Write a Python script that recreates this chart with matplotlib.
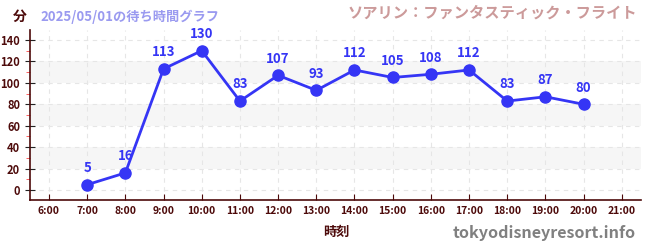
import matplotlib
matplotlib.use("Agg")
import matplotlib.pyplot as plt
from matplotlib.ticker import MultipleLocator, FuncFormatter

plt.rcParams['font.family'] = ['Noto Sans CJK JP', 'DejaVu Sans']

hours = [7, 8, 9, 10, 11, 12, 13, 14, 15, 16, 17, 18, 19, 20]
waits = [5, 16, 113, 130, 83, 107, 93, 112, 105, 108, 112, 83, 87, 80]
tick_hours = list(range(6, 22))
tick_labels = [f"{h}:00" for h in tick_hours]
y_ticks = [0, 20, 40, 60, 80, 100, 120, 140]

dark = '#4d0a0a'
blue = '#3535f5'

fig = plt.figure(figsize=(6.5, 2.5), dpi=100)
ax = fig.add_axes([0.046, 0.2, 0.94, 0.68])
ax.set_xlim(5.5, 21.5)
ax.set_ylim(-9.3, 149.3)

for lo in (20, 60, 100):
    ax.axhspan(lo, lo + 20, color='#f6f6f6', zorder=0, lw=0)

ax.grid(True, which='major', color='#e6e6e6', linestyle=(0, (4, 4)), linewidth=0.8)
ax.set_axisbelow(True)

ax.plot(hours, waits, color=blue, linewidth=2.0, marker='o', markersize=8, zorder=3)
for h, w in zip(hours, waits):
    ax.annotate(str(w), (h, w), xytext=(0, 7), textcoords='offset points',
                ha='center', va='bottom', color=blue, fontsize=9.5, fontweight='bold', zorder=4)

ax.set_xticks(tick_hours)
ax.set_xticklabels(tick_labels)
ax.set_yticks(y_ticks)
ax.yaxis.set_minor_locator(MultipleLocator(10))
ax.tick_params(axis='x', direction='in', length=4, color=dark, labelcolor=dark, labelsize=7.5, pad=4)
ax.tick_params(axis='y', which='major', direction='inout', length=7, color='#222222', labelcolor=dark, labelsize=8)
ax.tick_params(axis='y', which='minor', direction='out', length=3, color='#ff4444')
for lbl in ax.get_xticklabels() + ax.get_yticklabels():
    lbl.set_fontweight('bold')

for s in ('top', 'right'):
    ax.spines[s].set_visible(False)
ax.spines['left'].set_color(dark)
ax.spines['bottom'].set_color(dark)
ax.spines['left'].set_linewidth(1.2)
ax.spines['bottom'].set_linewidth(1.2)

fig.text(20/650, 1 - 17/250, '分', color=dark, fontsize=10, fontweight='bold', ha='center', va='center')
fig.text(40/650, 1 - 17/250, '2025/05/01の待ち時間グラフ', color='#9a9af0', fontsize=9.5, fontweight='bold', ha='left', va='center')
fig.text(637/650, 1 - 13/250, 'ソアリン：ファンタスティック・フライト', color='#cc9a9a', fontsize=11, fontweight='bold', ha='right', va='center')
fig.text(336/650, 1 - 232/250, '時刻', color=dark, fontsize=9.5, fontweight='bold', ha='center', va='center')
fig.text(636/650, 1 - 233/250, 'tokyodisneyresort.info', color='#808080', fontsize=11.6, fontweight='bold', ha='right', va='center')

fig.savefig('out.png', dpi=100)
